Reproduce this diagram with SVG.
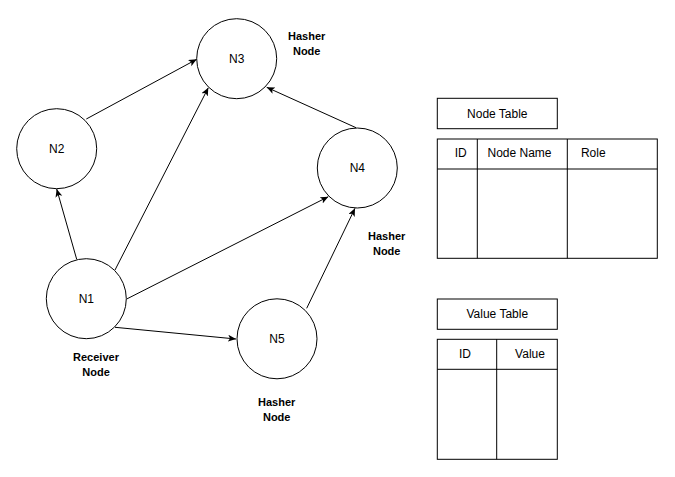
<svg xmlns="http://www.w3.org/2000/svg" width="675" height="477" viewBox="0 0 675 477">
<style>
.node circle{fill:#fff;stroke:#000;stroke-width:1}
.t{font-family:"Liberation Sans",Arial,sans-serif;font-size:12px;fill:#000;text-anchor:middle;dominant-baseline:central}
.b{font-family:"Liberation Sans",Arial,sans-serif;font-size:11px;font-weight:bold;fill:#000;text-anchor:middle;dominant-baseline:central}
.edge{stroke:#000;stroke-width:1;fill:none;marker-end:url(#arr)}
.box{fill:#fff;stroke:#000;stroke-width:1}
.ln{stroke:#000;stroke-width:1}
</style>
<defs>
<marker id="arr" markerUnits="userSpaceOnUse" markerWidth="10" markerHeight="8" refX="8" refY="3.5" orient="auto">
<path d="M0,0 L8,3.5 L0,7 L2,3.5 z" fill="#000"/>
</marker>
</defs>
<rect width="675" height="477" fill="#fff"/>
<g id="connectors">
<line class="edge" x1="86.3" y1="119" x2="196.7" y2="59.3"/>
<line class="edge" x1="115" y1="270" x2="208.3" y2="87.7"/>
<line class="edge" x1="356" y1="127.7" x2="266.7" y2="87.3"/>
<line class="edge" x1="76.7" y1="259.3" x2="56.7" y2="189"/>
<line class="edge" x1="126.7" y1="299" x2="328.3" y2="196.7"/>
<line class="edge" x1="306.7" y1="308.3" x2="355" y2="208.3"/>
<line class="edge" x1="115" y1="327.3" x2="236" y2="339"/>
</g>
<g id="N1" class="node"><circle cx="86.3" cy="298.7" r="40"/><text class="t" x="86.3" y="298.7">N1</text></g>
<g id="N2" class="node"><circle cx="56.7" cy="148.7" r="40"/><text class="t" x="56.7" y="148.7">N2</text></g>
<g id="N3" class="node"><circle cx="236.7" cy="58.7" r="40"/><text class="t" x="236.7" y="58.7">N3</text></g>
<g id="N4" class="node"><circle cx="357.3" cy="168" r="40"/><text class="t" x="357.3" y="168">N4</text></g>
<g id="N5" class="node"><circle cx="277" cy="338.8" r="40"/><text class="t" x="277" y="338.8">N5</text></g>
<g id="label-n3"><text class="b" x="306.7" y="36">Hasher</text><text class="b" x="306.7" y="51">Node</text></g>
<g id="label-n4"><text class="b" x="386.7" y="236">Hasher</text><text class="b" x="386.7" y="251">Node</text></g>
<g id="label-n1"><text class="b" x="96" y="356.5">Receiver</text><text class="b" x="96" y="371.5">Node</text></g>
<g id="label-n5"><text class="b" x="276.7" y="401.5">Hasher</text><text class="b" x="276.7" y="416.5">Node</text></g>
<g id="node-table-title"><rect class="box" x="437.3" y="98.3" width="120" height="30.4"/><text class="t" x="497.3" y="113.5">Node Table</text></g>
<g id="node-table">
<rect class="box" x="437.3" y="139" width="220" height="119.3"/>
<line class="ln" x1="437.3" y1="169" x2="657.3" y2="169"/>
<line class="ln" x1="477.3" y1="139" x2="477.3" y2="258.3"/>
<line class="ln" x1="567.3" y1="139" x2="567.3" y2="258.3"/>
<text class="t" x="460.7" y="152.5">ID</text>
<text class="t" x="519.5" y="152.5">Node Name</text>
<text class="t" x="593.3" y="152.5">Role</text>
</g>
<g id="value-table-title"><rect class="box" x="437.3" y="299" width="120" height="30.3"/><text class="t" x="497.3" y="314">Value Table</text></g>
<g id="value-table">
<rect class="box" x="437.3" y="339.3" width="120" height="120"/>
<line class="ln" x1="437.3" y1="369.3" x2="557.3" y2="369.3"/>
<line class="ln" x1="496.7" y1="339.3" x2="496.7" y2="459.3"/>
<text class="t" x="465" y="353.5">ID</text>
<text class="t" x="530" y="353.5">Value</text>
</g>
</svg>
